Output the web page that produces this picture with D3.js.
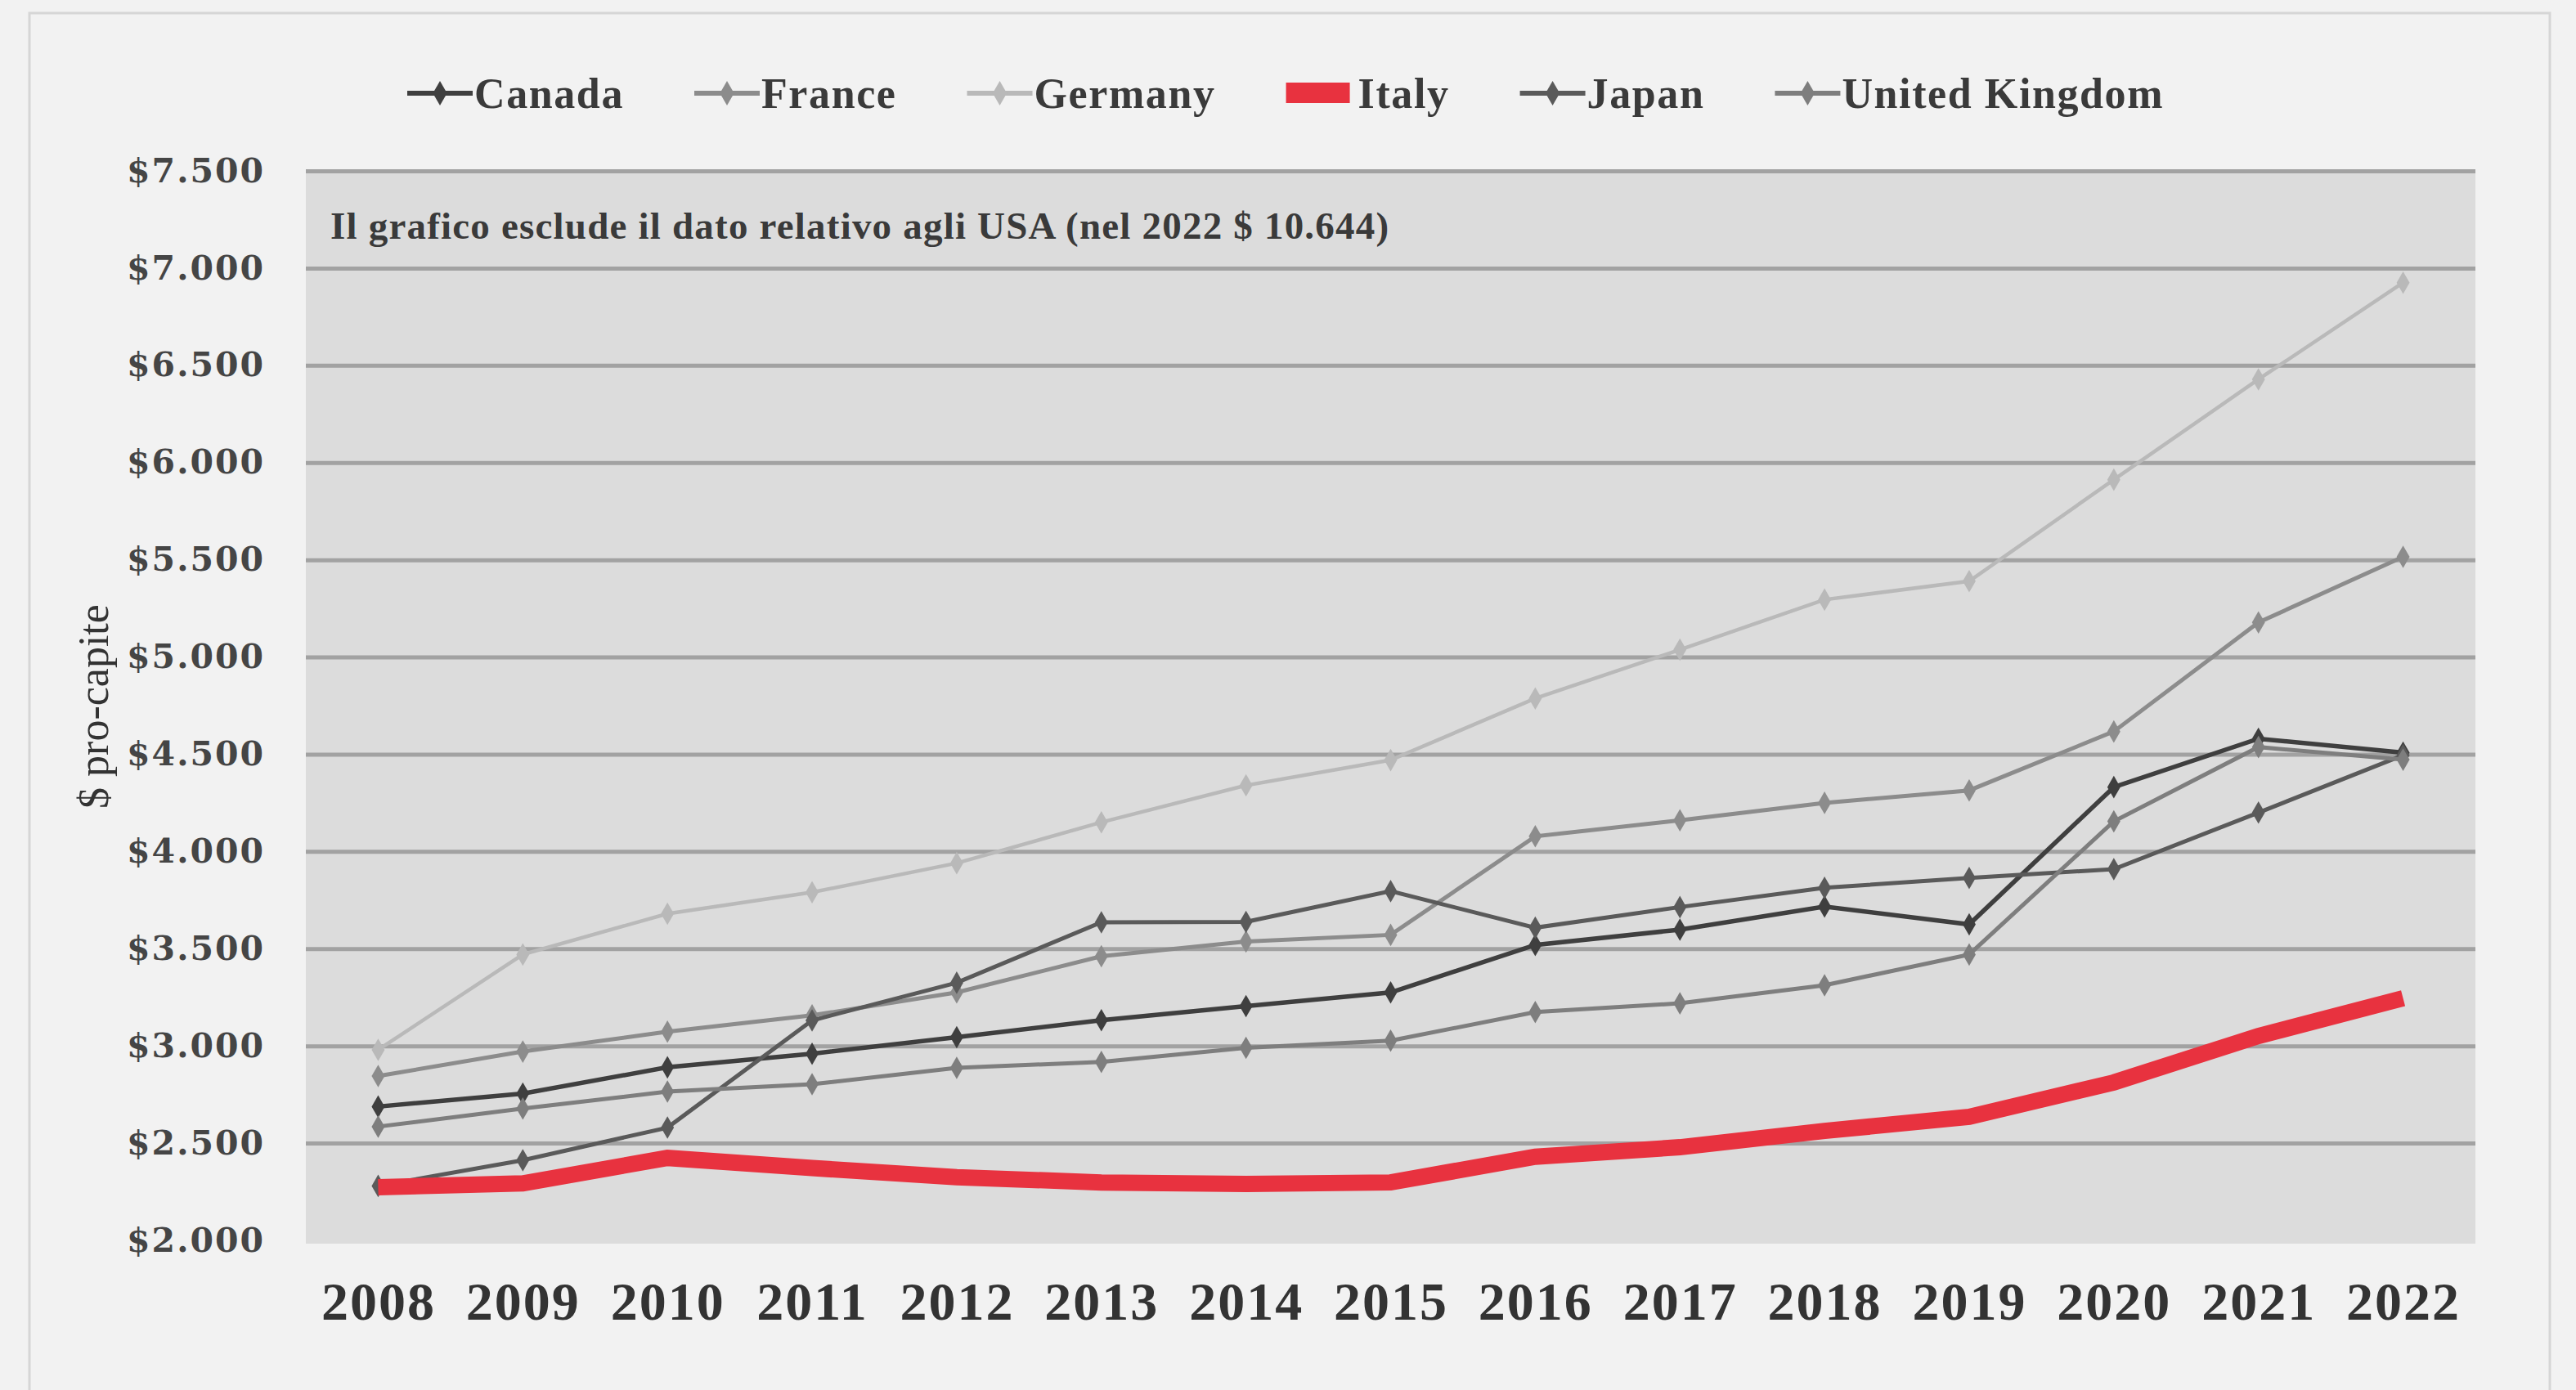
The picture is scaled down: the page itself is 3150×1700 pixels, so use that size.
<!DOCTYPE html>
<html>
<head>
<meta charset="utf-8">
<script src="https://cdn.jsdelivr.net/npm/d3@7"></script>
<style>
  body { margin: 0; background: #f2f2f2; }
  svg { display: block; }
</style>
</head>
<body>
<div class="chart-container"></div>
<script>
// Data
const years = ['2008','2009','2010','2011','2012','2013','2014','2015','2016','2017','2018','2019','2020','2021','2022'];
const canada  = [2688, 2755, 2890, 2960, 3045, 3132, 3205, 3275, 3519, 3598, 3717, 3625, 4331, 4580, 4508];
const france  = [2845, 2971, 3073, 3157, 3275, 3461, 3537, 3571, 4078, 4160, 4250, 4314, 4617, 5178, 5515];
const germany = [2980, 3470, 3680, 3790, 3940, 4150, 4340, 4470, 4787, 5038, 5295, 5390, 5912, 6428, 6925];
const italy   = [2273, 2293, 2424, 2372, 2325, 2298, 2290, 2298, 2430, 2479, 2563, 2635, 2812, 3051, 3245];
const japan   = [2280, 2412, 2580, 3131, 3325, 3636, 3638, 3796, 3608, 3714, 3813, 3864, 3909, 4200, 4495];
const uk      = [2585, 2678, 2765, 2803, 2887, 2918, 2990, 3027, 3174, 3219, 3312, 3470, 4155, 4537, 4472];
const countries = ['Canada','France','Germany','Italy','Japan','United Kingdom'];
const yTicks = [2000, 2500, 3000, 3500, 4000, 4500, 5000, 5500, 6000, 6500, 7000, 7500];
const note = 'Il grafico esclude il dato relativo agli USA (nel 2022 $ 10.644)';
const yTitle = '$ pro-capite';

const seriesData = [
	{name: 'Canada', values: canada, color: '#3f3f3f', width: 5.5},
	{name: 'France', values: france, color: '#8c8c8c', width: 5},
	{name: 'Germany', values: germany, color: '#b9b9b9', width: 4.5},
	{name: 'Japan', values: japan, color: '#5a5a5a', width: 5},
	{name: 'United Kingdom', values: uk, color: '#7e7e7e', width: 5},
	{name: 'Italy', values: italy, color: '#e8323f', width: 20, thick: true}
];

// Dimensions
const W = 3150, H = 1700;
const margin = {top: 209, right: 123, bottom: 183, left: 374};
const width = W - margin.left - margin.right;
const height = H - margin.top - margin.bottom;

// Scales
const xScale = d3.scalePoint().domain(years).range([0, width]).padding(0.5);
const yScale = d3.scaleLinear().domain([2000, 7500]).range([height, 0]);

const itLocale = d3.formatLocale({decimal: ',', thousands: '.', grouping: [3], currency: ['$', '']});
const fmt = itLocale.format('$,');

const svg = d3.select('.chart-container')
	.append('svg')
	.attr('width', W)
	.attr('height', H);

// outer frame
svg.append('rect')
	.attr('x', 36).attr('y', 16)
	.attr('width', 3082).attr('height', 1700)
	.attr('fill', '#f2f2f2')
	.attr('stroke', '#d6d6d6')
	.attr('stroke-width', 3);

const g = svg.append('g')
	.attr('transform', `translate(${margin.left}, ${margin.top})`);

// plot background
g.append('rect')
	.attr('x', 0).attr('y', 0)
	.attr('width', width).attr('height', height + 4)
	.attr('fill', '#dcdcdc');

// y axis with gridlines
const yAxis = d3.axisLeft(yScale)
	.tickValues(yTicks)
	.tickFormat(fmt)
	.tickSizeInner(-width)
	.tickSizeOuter(0)
	.tickPadding(50);

const yAxisDraw = g.append('g')
	.attr('class', 'y axis')
	.call(yAxis);
yAxisDraw.select('.domain').remove();
yAxisDraw.selectAll('.tick line')
	.attr('stroke', '#a2a2a2')
	.attr('stroke-width', d => d === 2000 ? 0 : 5);
yAxisDraw.selectAll('.tick text')
	.attr('fill', '#454545')
	.style('font-family', '"DejaVu Serif", serif')
	.style('font-weight', 'bold')
	.style('font-size', '41px')
	.style('letter-spacing', '2px');

// x axis
const xAxis = d3.axisBottom(xScale).tickSize(0).tickPadding(50);
const xAxisDraw = g.append('g')
	.attr('class', 'x axis')
	.attr('transform', `translate(0, ${height})`)
	.call(xAxis);
xAxisDraw.select('.domain').remove();
xAxisDraw.selectAll('.tick text')
	.attr('fill', '#333')
	.style('font-family', '"Liberation Serif", serif')
	.style('font-weight', 'bold')
	.style('font-size', '66px')
	.style('letter-spacing', '2px');

// note
g.append('text')
	.attr('x', 30)
	.attr('y', yScale(7220))
	.attr('dy', '0.35em')
	.attr('fill', '#3a3a3a')
	.style('font-family', '"Liberation Serif", serif')
	.style('font-weight', 'bold')
	.style('font-size', '47px')
	.style('letter-spacing', '1.2px')
	.text(note);

// y title
svg.append('text')
	.attr('transform', 'translate(114, 864) rotate(-90)')
	.attr('text-anchor', 'middle')
	.attr('dy', '0.35em')
	.attr('fill', '#333')
	.style('font-family', '"Liberation Serif", serif')
	.style('font-size', '52px')
	.text(yTitle);

// lines
const line = d3.line()
	.x((d, i) => xScale(years[i]))
	.y(d => yScale(d));

const lines = g.append('g').attr('class', 'lines');
seriesData.forEach(s => {
	lines.append('path')
		.datum(s.values)
		.attr('fill', 'none')
		.attr('stroke', s.color)
		.attr('stroke-width', s.width)
		.attr('stroke-linejoin', 'miter')
		.attr('d', line);
	if (!s.thick) {
		lines.append('g')
			.selectAll('path')
			.data(s.values)
			.join('path')
			.attr('transform', (d, i) => `translate(${xScale(years[i])}, ${yScale(d)})`)
			.attr('d', d3.symbol(d3.symbolDiamond, 220))
			.attr('fill', s.color);
	}
});

// legend
const legend = svg.append('g').attr('class', 'legend')
	.attr('transform', 'translate(498, 114)');
let lx = 0;
countries.forEach(name => {
	const s = seriesData.find(d => d.name === name);
	const item = legend.append('g').attr('transform', `translate(${lx}, 0)`);
	if (s.thick) {
		item.append('rect')
			.attr('x', 0).attr('y', -13)
			.attr('width', 78).attr('height', 25)
			.attr('fill', s.color);
	} else {
		item.append('line')
			.attr('x1', 0).attr('x2', 80)
			.attr('stroke', s.color)
			.attr('stroke-width', 6);
		item.append('path')
			.attr('transform', 'translate(40, 0)')
			.attr('d', d3.symbol(d3.symbolDiamond, 260))
			.attr('fill', s.color);
	}
	const tx = s.thick ? 88 : 82;
	const t = item.append('text')
		.attr('x', tx)
		.attr('dy', '0.35em')
		.attr('fill', '#3a3a3a')
		.style('font-family', '"Liberation Serif", serif')
		.style('font-weight', 'bold')
		.style('font-size', '52px')
		.style('letter-spacing', '1.6px')
		.text(name);
	lx += tx + t.node().getComputedTextLength() + 86;
});
</script>
</body>
</html>
